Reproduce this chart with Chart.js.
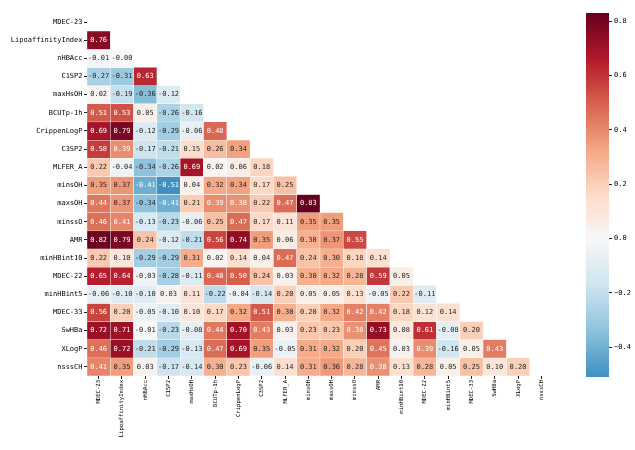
<!DOCTYPE html>
<html>
<head>
<meta charset="utf-8">
<script src="https://cdn.jsdelivr.net/npm/chart.js@4.4.0/dist/chart.umd.min.js"></script>
<style>
  body { margin: 0; background: #fff; }
  .wrap { position: relative; width: 635px; height: 450px; }
  .wrap canvas { position: absolute; left: 0; top: 0; }
</style>
</head>
<body>
<div class="wrap">
  <canvas id="heat" width="635" height="450"></canvas>
  <canvas id="cbar" width="635" height="450"></canvas>
</div>
<script>
const names = ['MDEC-23', 'LipoaffinityIndex', 'nHBAcc', 'C1SP2', 'maxHsOH', 'BCUTp-1h',
  'CrippenLogP', 'C3SP2', 'MLFER_A', 'minsOH', 'maxsOH', 'minssO', 'AMR', 'minHBint10',
  'MDEC-22', 'minHBint5', 'MDEC-33', 'SwHBa', 'XLogP', 'nsssCH'];

// lower triangle, one array per row (row 0 is fully masked)
const vLipoaffinityIndex = [0.76];
const vnHBAcc = [-0.01, -0.004];
const vC1SP2 = [-0.27, -0.31, 0.63];
const vmaxHsOH = [0.02, -0.19, -0.36, -0.12];
const vBCUTp1h = [0.51, 0.53, 0.05, -0.26, -0.16];
const vCrippenLogP = [0.69, 0.79, -0.12, -0.29, -0.06, 0.48];
const vC3SP2 = [0.58, 0.39, -0.17, -0.21, 0.15, 0.26, 0.34];
const vMLFER_A = [0.22, -0.04, -0.34, -0.26, 0.69, 0.02, 0.06, 0.18];
const vminsOH = [0.35, 0.37, -0.41, -0.51, 0.04, 0.32, 0.34, 0.17, 0.25];
const vmaxsOH = [0.44, 0.37, -0.34, -0.41, 0.21, 0.39, 0.38, 0.22, 0.47, 0.83];
const vminssO = [0.46, 0.41, -0.13, -0.23, -0.06, 0.25, 0.47, 0.17, 0.11, 0.35, 0.35];
const vAMR = [0.82, 0.79, 0.24, -0.12, -0.21, 0.56, 0.74, 0.35, 0.06, 0.30, 0.37, 0.55];
const vminHBint10 = [0.22, 0.10, -0.29, -0.29, 0.31, 0.02, 0.14, 0.04, 0.47, 0.24, 0.30, 0.18, 0.14];
const vMDEC22 = [0.65, 0.64, -0.03, -0.28, -0.11, 0.48, 0.50, 0.24, 0.03, 0.30, 0.32, 0.28, 0.59, 0.05];
const vminHBint5 = [-0.06, -0.10, -0.10, 0.03, 0.11, -0.22, -0.04, -0.14, 0.20, 0.05, 0.05, 0.13, -0.05, 0.22, -0.11];
const vMDEC33 = [0.56, 0.20, -0.05, -0.10, 0.10, 0.17, 0.32, 0.51, 0.30, 0.20, 0.32, 0.42, 0.42, 0.18, 0.12, 0.14];
const vSwHBa = [0.72, 0.71, -0.01, -0.23, -0.08, 0.44, 0.70, 0.43, 0.03, 0.23, 0.23, 0.38, 0.73, 0.08, 0.61, -0.08, 0.20];
const vXLogP = [0.46, 0.72, -0.21, -0.29, -0.13, 0.47, 0.69, 0.35, -0.05, 0.31, 0.32, 0.20, 0.45, 0.03, 0.39, -0.16, 0.05, 0.43];
const vnsssCH = [0.41, 0.35, 0.03, -0.17, -0.14, 0.30, 0.23, -0.06, 0.14, 0.31, 0.36, 0.28, 0.38, 0.13, 0.28, 0.05, 0.25, 0.10, 0.20];

const cbTicks = [-0.4, -0.2, 0.0, 0.2, 0.4, 0.6, 0.8];

const rows = [[], vLipoaffinityIndex, vnHBAcc, vC1SP2, vmaxHsOH, vBCUTp1h, vCrippenLogP,
  vC3SP2, vMLFER_A, vminsOH, vmaxsOH, vminssO, vAMR, vminHBint10, vMDEC22, vminHBint5,
  vMDEC33, vSwHBa, vXLogP, vnsssCH];

const allValues = rows.flat();
const vmin = Math.min(...allValues);
const vmax = Math.max(...allValues);
const vrange = Math.max(vmax, -vmin); // centred on 0 like seaborn

// RdBu_r
const rdbu = [[5, 48, 97], [33, 102, 172], [67, 147, 195], [146, 197, 222], [209, 229, 240],
  [247, 247, 247], [253, 219, 199], [244, 165, 130], [214, 96, 77], [178, 24, 43], [103, 0, 31]];

function cmap(v) {
  let t = (v + vrange) / (2 * vrange);
  t = Math.min(1, Math.max(0, t)) * 10;
  const i = Math.min(9, Math.floor(t));
  const f = t - i;
  return rdbu[i].map((c, k) => Math.round(c + (rdbu[i + 1][k] - c) * f));
}

function luminance(rgb) {
  const c = rgb.map((x) => {
    x /= 255;
    return x <= 0.03928 ? x / 12.92 : Math.pow((x + 0.055) / 1.055, 2.4);
  });
  return 0.2126 * c[0] + 0.7152 * c[1] + 0.0722 * c[2];
}

const rgbStr = (c) => `rgb(${c[0]},${c[1]},${c[2]})`;
const font = { family: 'DejaVu Sans Mono', size: 7 };
const xFont = { family: 'DejaVu Sans Mono', size: 5.6 };

const datasets = rows.map((vals, i) => ({
  data: names.map((_, j) => (j < i ? [i, i + 1] : null)),
  backgroundColor: names.map((_, j) => (j < i ? rgbStr(cmap(vals[j])) : 'transparent')),
  borderColor: '#fff',
  borderWidth: 0.5,
  borderSkipped: false,
}));

const annotate = {
  id: 'annotate',
  afterDatasetsDraw(chart) {
    const ctx = chart.ctx;
    ctx.save();
    ctx.font = `${font.size}px ${font.family}`;
    ctx.textAlign = 'center';
    ctx.textBaseline = 'middle';
    chart.data.datasets.forEach((ds, i) => {
      const meta = chart.getDatasetMeta(i);
      meta.data.forEach((bar, j) => {
        if (j >= i) return;
        const v = rows[i][j];
        ctx.fillStyle = luminance(cmap(v)) > 0.408 ? '#262626' : '#fff';
        ctx.fillText(v.toFixed(2), bar.x, (bar.y + bar.base) / 2);
      });
    });
    ctx.restore();
  },
};

new Chart(document.getElementById('heat'), {
  type: 'bar',
  data: { labels: names, datasets },
  options: {
    responsive: false,
    animation: false,
    layout: { padding: { left: 0, right: 82, top: 13, bottom: 0 } },
    plugins: { legend: { display: false }, tooltip: { enabled: false } },
    datasets: { bar: { grouped: false, barPercentage: 1, categoryPercentage: 1 } },
    scales: {
      x: {
        type: 'category',
        offset: true,
        grid: { display: true, drawOnChartArea: false, offset: false, tickLength: 3, color: '#222' },
        border: { display: false },
        ticks: { font: xFont, color: '#000', autoSkip: false, minRotation: 90, maxRotation: 90, padding: 1 },
        afterFit(scale) { scale.height = 74; },
      },
      y: {
        type: 'linear',
        min: 0,
        max: names.length,
        reverse: true,
        grid: { display: true, drawOnChartArea: false, tickLength: 3, color: '#222' },
        border: { display: false },
        afterBuildTicks(scale) { scale.ticks = names.map((_, i) => ({ value: i + 0.5 })); },
        ticks: { font, color: '#000', padding: 1.5, callback: (value) => names[Math.floor(value)] },
        afterFit(scale) { scale.width = 87; },
      },
    },
  },
  plugins: [annotate],
});

// colorbar
new Chart(document.getElementById('cbar'), {
  type: 'bar',
  data: {
    labels: [''],
    datasets: [{
      data: [[vmin, vmax]],
      borderWidth: 0,
      backgroundColor(c) {
        const { chartArea, scales } = c.chart;
        if (!chartArea) return 'transparent';
        const y0 = scales.y.getPixelForValue(vmin);
        const y1 = scales.y.getPixelForValue(vmax);
        const g = c.chart.ctx.createLinearGradient(0, y0, 0, y1);
        for (let k = 0; k <= 40; k++) {
          g.addColorStop(k / 40, rgbStr(cmap(vmin + (vmax - vmin) * k / 40)));
        }
        return g;
      },
    }],
  },
  options: {
    responsive: false,
    animation: false,
    layout: { padding: { left: 586, right: 0, top: 13, bottom: 73 } },
    plugins: { legend: { display: false }, tooltip: { enabled: false } },
    datasets: { bar: { barPercentage: 1, categoryPercentage: 1 } },
    scales: {
      x: { display: false },
      y: {
        position: 'right',
        min: vmin,
        max: vmax,
        grid: { display: true, drawOnChartArea: false, tickLength: 3, color: '#222' },
        border: { display: false },
        afterBuildTicks(scale) { scale.ticks = cbTicks.map((value) => ({ value })); },
        ticks: { font, color: '#000', padding: 2,
          callback: (value) => value.toFixed(1).replace('-', '\u2212') },
        afterFit(scale) { scale.width = 26; },
      },
    },
  },
});
</script>
</body>
</html>
